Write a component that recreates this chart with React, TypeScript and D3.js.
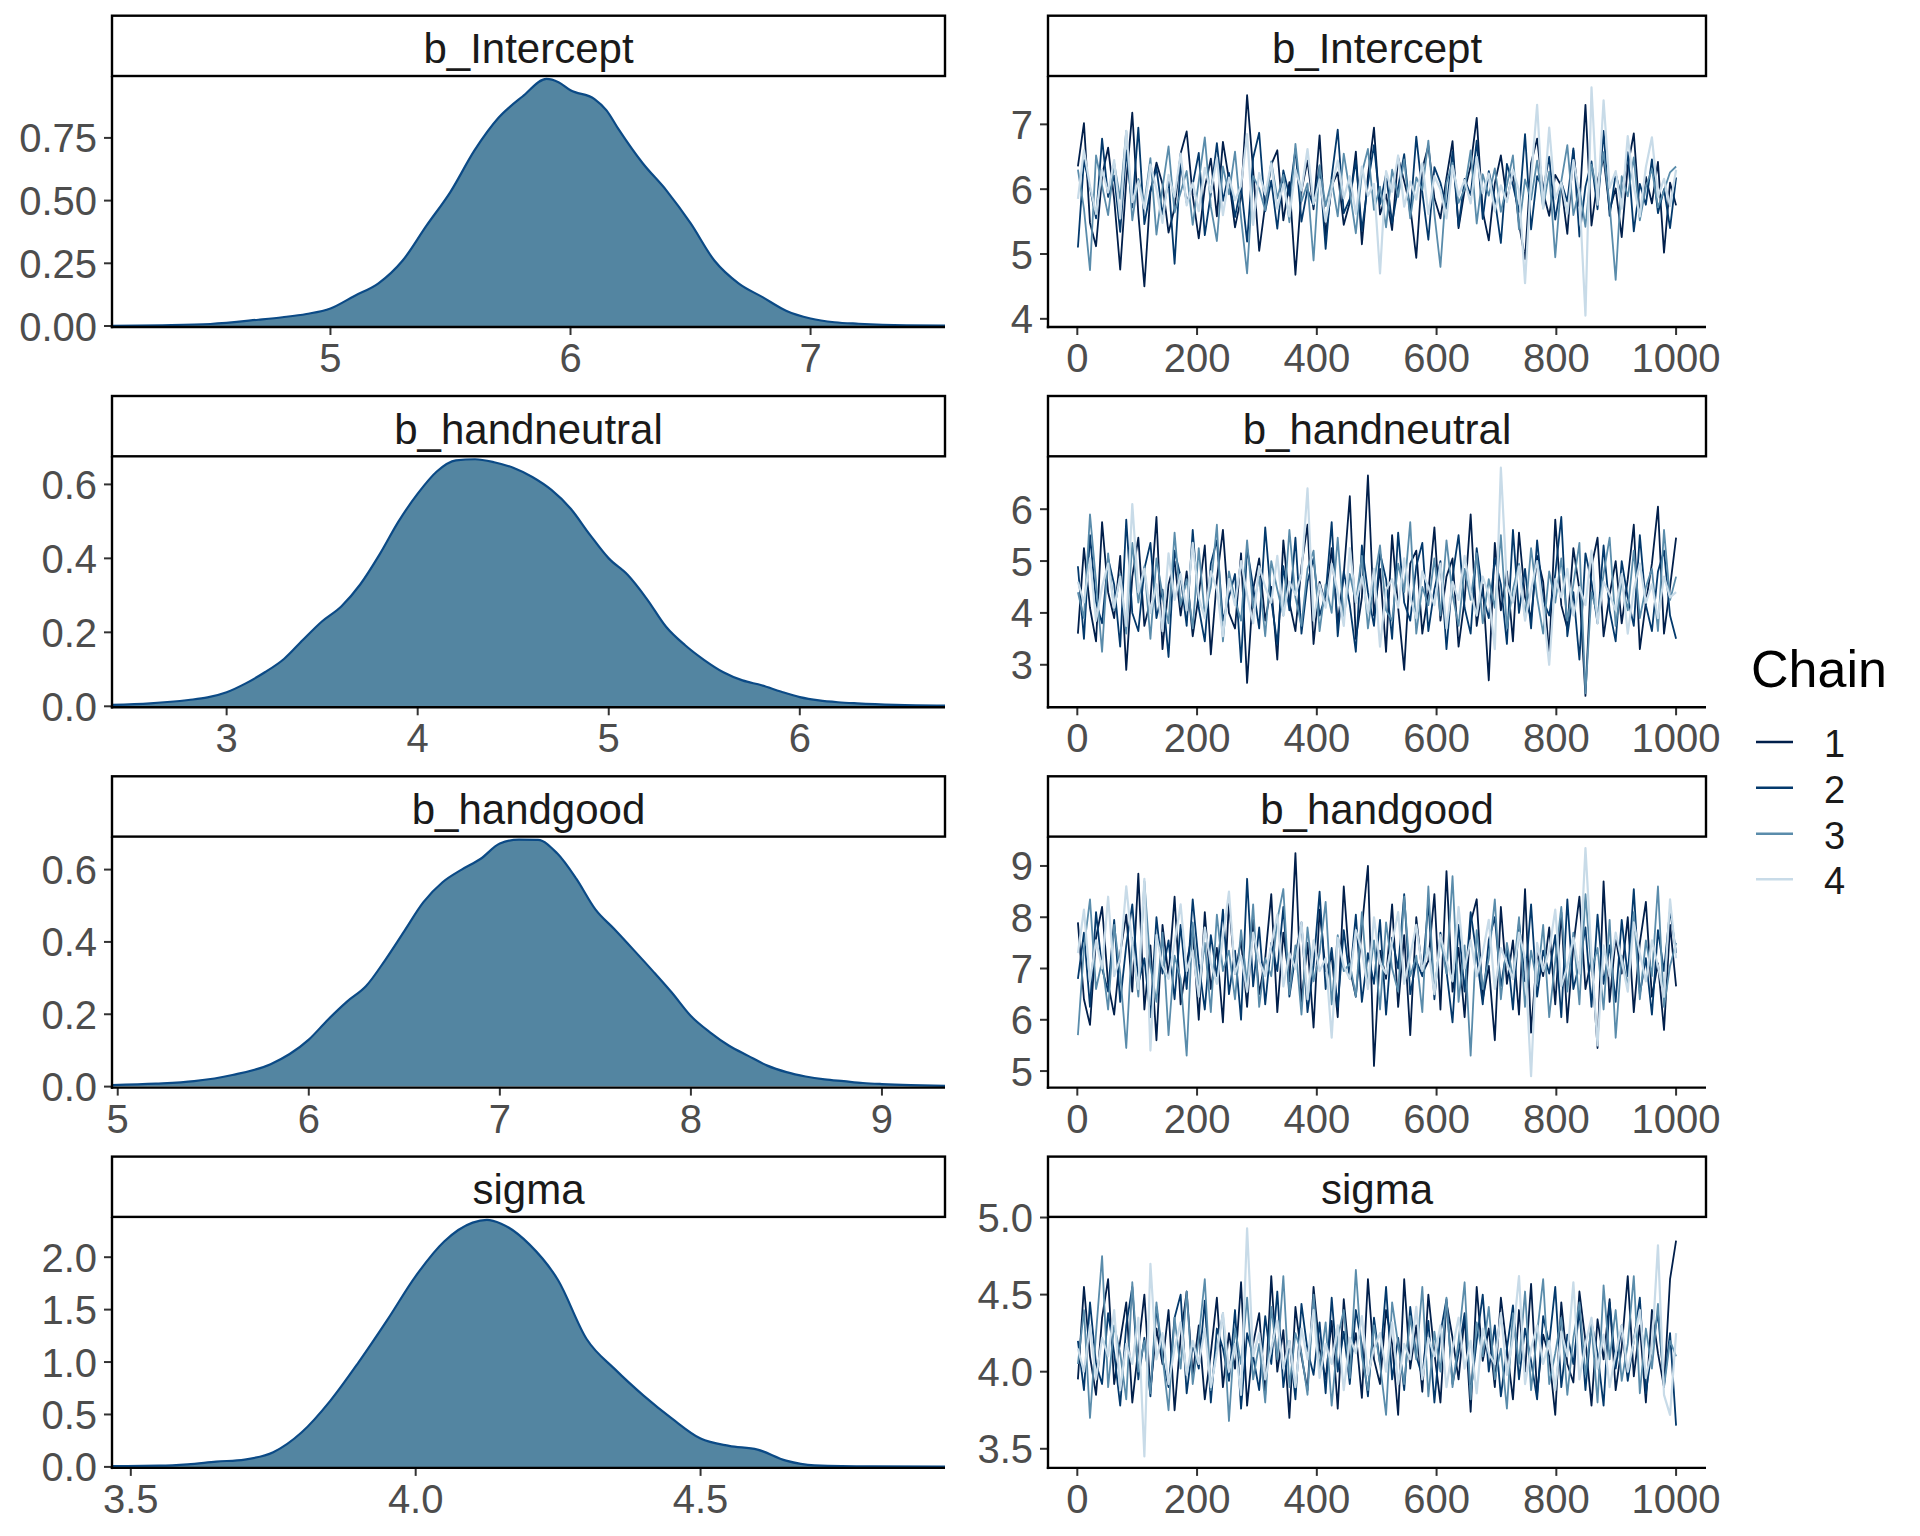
import React from 'react';
import * as d3 from 'd3';

const FONT = '"Liberation Sans", Arial, Helvetica, sans-serif';

// ---------- parameter names / chains ----------
const PARAM_NAMES = ['b_Intercept', 'b_handneutral', 'b_handgood', 'sigma'];
const CHAIN_LABELS = ['1', '2', '3', '4'];
const CHAIN_COLORS = ['#011f4b', '#03396c', '#5a8cab', '#c8dbe8'];
const DENS_FILL = '#5385a1';
const DENS_LINE = '#0b4a86';

// ---------- density curves ----------
const interceptDensX = [4.09, 4.3, 4.5, 4.7, 4.8, 4.9, 5.0, 5.1, 5.2, 5.3, 5.4, 5.5, 5.6, 5.7, 5.8, 5.9, 5.95, 6.0, 6.1, 6.15, 6.2, 6.3, 6.4, 6.5, 6.6, 6.7, 6.8, 6.9, 7.0, 7.1, 7.2, 7.3, 7.4, 7.56];
const interceptDensY = [0.001, 0.003, 0.008, 0.025, 0.035, 0.048, 0.07, 0.12, 0.17, 0.26, 0.40, 0.535, 0.70, 0.83, 0.915, 0.985, 0.972, 0.94, 0.905, 0.86, 0.785, 0.65, 0.54, 0.41, 0.26, 0.17, 0.115, 0.06, 0.03, 0.015, 0.009, 0.005, 0.003, 0.002];

const handneutralDensX = [2.40, 2.6, 2.8, 2.9, 3.0, 3.1, 3.2, 3.3, 3.4, 3.5, 3.6, 3.7, 3.8, 3.9, 4.0, 4.1, 4.2, 4.3, 4.4, 4.5, 4.6, 4.7, 4.8, 4.9, 5.0, 5.1, 5.2, 5.3, 5.4, 5.5, 5.6, 5.7, 5.8, 5.9, 6.0, 6.1, 6.2, 6.3, 6.5, 6.76];
const handneutralDensY = [0.004, 0.008, 0.017, 0.024, 0.038, 0.062, 0.092, 0.128, 0.18, 0.23, 0.27, 0.33, 0.41, 0.50, 0.575, 0.635, 0.665, 0.668, 0.66, 0.645, 0.62, 0.585, 0.535, 0.465, 0.40, 0.355, 0.29, 0.215, 0.165, 0.125, 0.092, 0.07, 0.057, 0.04, 0.025, 0.016, 0.011, 0.008, 0.004, 0.002];

const handgoodDensX = [4.97, 5.2, 5.4, 5.6, 5.8, 5.9, 6.0, 6.1, 6.2, 6.3, 6.4, 6.5, 6.6, 6.7, 6.8, 6.9, 7.0, 7.1, 7.2, 7.3, 7.4, 7.5, 7.6, 7.7, 7.8, 7.9, 8.0, 8.1, 8.2, 8.3, 8.4, 8.5, 8.6, 8.7, 8.8, 8.9, 9.0, 9.15, 9.33];
const handgoodDensY = [0.004, 0.008, 0.015, 0.032, 0.062, 0.09, 0.13, 0.185, 0.235, 0.278, 0.35, 0.43, 0.51, 0.565, 0.60, 0.63, 0.672, 0.683, 0.682, 0.645, 0.575, 0.49, 0.435, 0.378, 0.32, 0.26, 0.195, 0.15, 0.113, 0.085, 0.058, 0.04, 0.028, 0.02, 0.015, 0.01, 0.007, 0.004, 0.002];

const sigmaDensX = [3.467, 3.55, 3.6, 3.65, 3.7, 3.75, 3.8, 3.85, 3.9, 3.95, 4.0, 4.05, 4.1, 4.125, 4.15, 4.2, 4.25, 4.3, 4.35, 4.4, 4.45, 4.5, 4.55, 4.6, 4.65, 4.7, 4.8, 4.929];
const sigmaDensY = [0.008, 0.012, 0.025, 0.05, 0.07, 0.14, 0.33, 0.63, 1.0, 1.40, 1.82, 2.15, 2.33, 2.356, 2.32, 2.12, 1.78, 1.22, 0.93, 0.68, 0.46, 0.27, 0.20, 0.165, 0.06, 0.015, 0.005, 0.004];

// ---------- tick values / labels ----------
const interceptDensXTicks = [5, 6, 7];
const interceptDensXLabels = ['5', '6', '7'];
const interceptDensYTicks = [0, 0.25, 0.5, 0.75];
const interceptDensYLabels = ['0.00', '0.25', '0.50', '0.75'];
const handneutralDensXTicks = [3, 4, 5, 6];
const handneutralDensXLabels = ['3', '4', '5', '6'];
const handneutralDensYTicks = [0, 0.2, 0.4, 0.6];
const handneutralDensYLabels = ['0.0', '0.2', '0.4', '0.6'];
const handgoodDensXTicks = [5, 6, 7, 8, 9];
const handgoodDensXLabels = ['5', '6', '7', '8', '9'];
const handgoodDensYTicks = [0, 0.2, 0.4, 0.6];
const handgoodDensYLabels = ['0.0', '0.2', '0.4', '0.6'];
const sigmaDensXTicks = [3.5, 4.0, 4.5];
const sigmaDensXLabels = ['3.5', '4.0', '4.5'];
const sigmaDensYTicks = [0, 0.5, 1, 1.5, 2];
const sigmaDensYLabels = ['0.0', '0.5', '1.0', '1.5', '2.0'];

const interceptTraceYTicks = [4, 5, 6, 7];
const interceptTraceYLabels = ['4', '5', '6', '7'];
const handneutralTraceYTicks = [3, 4, 5, 6];
const handneutralTraceYLabels = ['3', '4', '5', '6'];
const handgoodTraceYTicks = [5, 6, 7, 8, 9];
const handgoodTraceYLabels = ['5', '6', '7', '8', '9'];
const sigmaTraceYTicks = [3.5, 4.0, 4.5, 5.0];
const sigmaTraceYLabels = ['3.5', '4.0', '4.5', '5.0'];

const ITER_TICKS = [0, 200, 400, 600, 800, 1000];
const ITER_LABELS = ['0', '200', '400', '600', '800', '1000'];
const ITER_FIRST = 1;
const ITER_LAST = 1000;

// ---------- trace draws (thinned) ----------
const interceptChain1 = [6.35, 7.02, 5.48, 5.12, 6.21, 6.64, 5.85, 4.76, 6.12, 7.18, 5.62, 4.50, 5.95, 6.41, 6.08, 5.33, 5.71, 6.55, 6.89, 5.90, 5.24, 6.02, 6.47, 5.58, 6.73, 6.15, 5.41, 5.87, 7.45, 6.30, 5.05, 5.76, 6.38, 6.60, 5.52, 6.11, 4.68, 5.97, 6.44, 5.69, 6.83, 5.28, 6.05, 6.26, 5.45, 5.80, 6.58, 5.15, 6.20, 6.95, 5.61, 5.92, 5.37, 6.49, 6.12, 5.73, 4.94, 6.31, 6.67, 5.86, 5.55, 6.18, 6.74, 5.40, 5.98, 6.36, 7.10, 5.66, 5.21, 6.09, 6.52, 5.83, 6.27, 5.47, 4.92, 6.40, 6.78, 5.95, 5.59, 6.22, 6.05, 5.31, 6.60, 5.74, 7.30, 5.44, 6.13, 6.48, 5.68, 6.01, 5.26, 6.35, 6.86, 5.57, 6.19, 5.78, 6.42, 5.02, 6.10, 5.75];
const interceptChain2 = [5.10, 6.45, 6.02, 5.55, 6.78, 5.88, 6.21, 5.34, 6.60, 5.72, 6.95, 5.46, 5.98, 6.33, 5.61, 6.14, 4.85, 6.40, 5.79, 6.07, 6.56, 5.29, 5.93, 6.71, 5.82, 6.25, 5.57, 6.05, 5.19, 6.48, 6.87, 5.66, 6.13, 5.39, 6.29, 5.90, 6.62, 5.50, 6.00, 5.74, 6.36, 5.08, 6.19, 6.92, 5.63, 5.85, 6.44, 5.36, 6.09, 6.68, 5.77, 6.23, 5.48, 6.03, 6.54, 5.60, 6.81, 5.95, 5.22, 6.34, 6.10, 5.70, 6.58, 5.43, 6.16, 5.91, 6.75, 5.54, 6.28, 5.84, 5.17, 6.39, 6.06, 5.65, 6.85, 5.38, 6.20, 5.99, 6.50, 5.53, 6.11, 5.81, 6.63, 5.27, 6.04, 6.43, 5.69, 6.90, 5.59, 6.24, 5.87, 6.57, 5.35, 6.08, 5.76, 6.46, 5.63, 6.00, 5.40, 6.18];
const interceptChain3 = [6.30, 5.70, 4.75, 6.52, 6.05, 5.60, 6.40, 5.85, 6.90, 5.52, 6.16, 5.78, 6.48, 5.30, 6.02, 6.66, 5.64, 5.95, 6.28, 5.45, 6.12, 6.80, 5.73, 5.20, 6.35, 5.92, 6.58, 5.56, 4.70, 6.20, 6.01, 5.67, 6.43, 5.86, 6.22, 5.49, 6.70, 5.81, 6.09, 4.90, 6.37, 5.74, 6.14, 5.58, 6.55, 5.96, 5.32, 6.25, 6.62, 5.68, 6.04, 5.41, 6.30, 5.88, 6.46, 5.55, 6.18, 5.99, 6.75, 5.62, 4.80, 6.10, 6.41, 5.79, 6.00, 6.60, 5.47, 6.23, 5.90, 6.32, 5.65, 6.06, 6.52, 5.38, 6.15, 5.84, 6.44, 5.71, 6.27, 4.95, 6.12, 6.68, 5.60, 6.02, 5.42, 6.38, 5.93, 6.57, 5.76, 4.60, 6.20, 5.89, 6.49, 5.52, 6.03, 6.31, 5.72, 5.98, 6.26, 6.35];
const interceptChain4 = [5.85, 6.60, 6.05, 5.62, 6.30, 5.95, 6.45, 5.55, 6.90, 5.80, 6.12, 5.70, 6.38, 6.00, 5.48, 6.22, 5.88, 6.55, 5.75, 6.10, 5.66, 6.33, 5.95, 6.48, 5.60, 6.18, 5.83, 6.05, 6.85, 5.45, 6.25, 5.92, 6.40, 5.70, 6.08, 5.58, 6.30, 5.98, 6.62, 5.77, 6.15, 5.50, 6.02, 6.44, 5.86, 6.20, 5.62, 6.35, 5.90, 6.08, 4.70, 6.28, 5.96, 6.52, 5.73, 6.12, 5.84, 6.40, 5.62, 6.20, 6.00, 5.55, 6.36, 5.90, 6.14, 5.78, 6.50, 5.94, 6.24, 5.66, 6.06, 5.80, 6.30, 5.98, 4.55, 6.15, 7.30, 5.70, 6.95, 5.85, 6.10, 5.62, 6.45, 5.92, 4.05, 7.57, 5.76, 7.37, 6.02, 6.28, 5.70, 6.82, 6.04, 5.58, 6.34, 6.80, 5.88, 6.16, 5.74, 6.30];

const handneutralChain1 = [3.60, 5.25, 4.10, 3.45, 5.75, 4.40, 3.90, 5.10, 2.90, 4.70, 5.45, 3.75, 4.25, 5.85, 3.30, 4.55, 5.00, 3.95, 4.80, 3.55, 4.35, 5.30, 3.20, 4.65, 5.60, 4.00, 3.70, 5.15, 2.65, 4.45, 5.05, 3.85, 4.50, 3.10, 5.40, 4.20, 3.65, 4.90, 5.70, 3.40, 4.60, 4.15, 5.25, 3.80, 4.75, 6.25, 3.50, 4.30, 6.65, 3.95, 4.85, 3.25, 5.50, 4.10, 2.90, 4.95, 5.20, 3.60, 4.40, 5.65, 3.85, 4.70, 5.05, 3.35, 4.25, 5.90, 3.75, 4.55, 2.70, 5.35, 4.05, 4.80, 3.45, 5.55, 4.30, 3.90, 5.10, 4.60, 3.20, 5.80, 4.15, 3.70, 5.25, 4.45, 2.40, 4.90, 5.45, 3.55, 4.35, 5.00, 3.80, 4.65, 5.70, 3.30, 4.20, 4.95, 6.05, 3.60, 4.50, 5.45];
const handneutralChain2 = [4.90, 3.50, 5.50, 4.20, 3.80, 5.05, 4.55, 3.35, 5.80, 4.00, 3.65, 4.85, 5.35, 3.90, 4.45, 3.15, 5.20, 4.70, 3.75, 5.60, 4.10, 3.45, 4.95, 5.40, 3.85, 4.30, 4.75, 3.05, 5.25, 4.50, 3.70, 5.65, 4.25, 3.40, 4.90, 4.05, 5.45, 3.60, 4.60, 5.05, 3.95, 4.35, 5.75, 3.55, 4.80, 4.15, 3.25, 5.30, 4.40, 3.75, 5.15, 4.65, 3.50, 5.55, 4.20, 3.85, 4.90, 5.35, 3.65, 4.45, 5.00, 3.30, 4.70, 5.50, 4.10, 3.60, 5.25, 4.35, 3.90, 5.05, 4.55, 3.40, 5.60, 4.00, 4.85, 3.70, 5.40, 4.25, 3.95, 4.75, 5.85, 3.55, 4.40, 3.10, 5.15, 4.60, 3.80, 5.30, 4.05, 3.45, 5.00, 4.30, 3.75, 5.50, 4.15, 3.65, 4.80, 5.20, 3.95, 3.50];
const handneutralChain3 = [4.40, 3.90, 5.90, 4.60, 3.25, 5.15, 4.05, 4.75, 3.60, 5.35, 4.20, 4.90, 3.50, 5.05, 4.35, 3.80, 5.55, 4.15, 4.65, 3.70, 5.25, 3.95, 4.50, 5.70, 3.45, 4.80, 4.25, 3.85, 5.40, 4.10, 4.70, 3.55, 5.00, 4.45, 3.95, 5.60, 4.30, 3.75, 4.85, 5.20, 3.65, 4.55, 4.00, 5.45, 3.90, 4.75, 4.20, 5.10, 3.70, 4.60, 5.30, 4.05, 3.85, 4.95, 4.40, 5.75, 3.60, 4.50, 4.15, 5.05, 3.95, 5.40, 4.35, 3.75, 4.85, 4.25, 5.15, 3.80, 4.65, 4.10, 5.50, 3.70, 4.45, 4.95, 3.90, 5.25, 4.30, 3.60, 4.80, 4.20, 5.05, 3.85, 4.55, 5.35, 2.45, 4.40, 3.95, 4.75, 5.45, 3.75, 4.60, 4.05, 5.20, 3.90, 4.50, 4.85, 3.65, 5.60, 4.25, 4.70];
const handneutralChain4 = [4.60, 4.20, 5.05, 3.85, 4.50, 4.95, 4.10, 4.70, 3.75, 6.10, 4.40, 4.85, 4.00, 4.55, 3.65, 5.15, 4.25, 4.75, 4.05, 5.35, 4.30, 3.90, 4.80, 4.45, 3.55, 4.65, 4.15, 5.00, 4.35, 3.80, 4.90, 4.50, 4.20, 5.10, 3.95, 4.60, 4.35, 4.75, 6.40, 3.85, 4.55, 4.10, 4.95, 4.40, 3.75, 5.25, 4.20, 4.70, 4.00, 4.85, 3.35, 4.45, 4.65, 4.10, 5.05, 4.30, 3.90, 4.80, 4.50, 4.15, 4.95, 3.70, 4.60, 4.25, 5.10, 4.40, 3.95, 4.70, 4.35, 3.30, 6.80, 4.55, 4.20, 4.90, 3.85, 4.45, 5.00, 4.10, 3.00, 4.65, 4.30, 4.85, 3.95, 4.50, 4.15, 5.20, 3.80, 4.60, 4.35, 4.05, 4.75, 3.60, 4.45, 4.95, 4.20, 4.55, 3.90, 4.70, 4.30, 4.40];

const handgoodChain1 = [7.90, 6.40, 5.90, 7.60, 8.20, 6.70, 6.10, 7.30, 8.05, 6.55, 8.85, 6.20, 7.45, 5.60, 7.85, 6.85, 8.40, 6.30, 7.10, 7.75, 6.00, 8.10, 6.60, 7.40, 5.95, 8.30, 6.90, 7.55, 6.25, 7.95, 6.50, 7.20, 8.45, 6.15, 7.70, 6.75, 9.25, 6.35, 7.50, 5.85, 8.15, 6.95, 7.25, 6.05, 8.60, 7.00, 6.45, 7.80, 9.00, 5.10, 7.35, 6.80, 8.25, 6.25, 7.65, 5.70, 8.00, 6.90, 7.15, 8.45, 6.20, 8.90, 6.55, 7.40, 6.05, 7.90, 8.35, 6.40, 7.05, 5.60, 8.20, 6.70, 7.55, 6.10, 8.55, 5.75, 7.30, 6.85, 7.80, 6.30, 8.10, 5.95, 7.45, 8.40, 6.60, 7.20, 5.45, 8.70, 6.35, 7.60, 6.90, 8.00, 6.15, 7.50, 8.30, 6.45, 7.10, 5.80, 7.85, 6.65];
const handgoodChain2 = [6.80, 7.70, 6.25, 8.10, 7.00, 6.55, 7.95, 6.35, 7.45, 8.25, 6.70, 7.20, 6.05, 8.00, 6.90, 7.55, 6.40, 7.85, 6.60, 8.35, 7.10, 6.20, 7.65, 6.85, 8.15, 6.50, 7.35, 6.00, 8.75, 6.65, 7.80, 6.30, 7.50, 6.95, 8.20, 6.45, 7.25, 7.90, 6.15, 7.05, 8.50, 6.60, 7.40, 6.25, 7.75, 6.80, 8.05, 6.35, 7.30, 6.70, 7.95, 6.10, 7.60, 7.00, 8.45, 6.50, 7.15, 6.85, 8.30, 6.40, 7.70, 6.95, 5.95, 7.85, 6.55, 8.10, 7.25, 6.30, 7.55, 8.00, 6.65, 7.40, 6.20, 7.90, 6.75, 8.25, 6.45, 7.35, 6.90, 7.65, 6.05, 8.35, 6.60, 7.10, 7.80, 6.25, 8.05, 6.70, 7.45, 6.35, 7.95, 6.85, 8.55, 6.50, 7.20, 6.10, 7.75, 6.95, 8.15, 7.30];
const handgoodChain3 = [5.70, 7.40, 8.35, 6.60, 7.15, 6.20, 7.85, 6.90, 5.45, 7.60, 6.45, 8.70, 7.05, 6.35, 7.70, 5.70, 7.25, 6.80, 5.30, 7.90, 6.55, 7.50, 6.15, 8.05, 6.95, 7.35, 6.40, 7.75, 6.70, 8.25, 6.25, 7.20, 6.85, 7.95, 8.55, 6.50, 7.45, 6.10, 7.80, 6.75, 7.30, 8.30, 6.30, 7.65, 6.95, 7.10, 6.45, 8.10, 6.65, 7.55, 6.20, 7.90, 7.00, 6.55, 8.40, 6.85, 7.25, 6.15, 8.60, 6.50, 7.60, 6.90, 8.80, 6.35, 7.45, 5.30, 7.75, 6.60, 7.20, 8.35, 6.40, 7.50, 6.80, 8.00, 6.25, 7.35, 6.70, 7.85, 6.05, 7.15, 8.20, 6.55, 7.70, 6.30, 8.45, 6.95, 7.40, 6.20, 7.95, 5.65, 7.25, 6.65, 8.10, 6.40, 7.55, 6.85, 8.60, 6.25, 7.05, 7.50];
const handgoodChain4 = [7.30, 8.15, 6.75, 7.55, 7.00, 8.40, 6.85, 7.20, 8.60, 7.45, 6.60, 8.75, 5.40, 7.65, 7.05, 6.80, 7.50, 8.25, 6.95, 7.35, 6.45, 7.80, 7.10, 6.70, 7.60, 8.50, 6.90, 7.25, 6.55, 7.70, 7.15, 6.85, 7.45, 8.05, 6.65, 7.30, 7.00, 7.90, 6.40, 7.55, 6.95, 7.20, 5.65, 7.60, 7.05, 6.80, 7.75, 7.35, 6.60, 8.00, 7.10, 6.90, 7.50, 8.10, 6.70, 7.25, 7.85, 6.95, 7.40, 6.50, 7.65, 7.15, 6.75, 8.20, 7.00, 7.55, 6.85, 7.30, 7.95, 6.60, 7.40, 7.10, 6.80, 7.70, 7.20, 4.90, 7.50, 6.95, 7.35, 8.15, 6.65, 7.05, 7.60, 6.90, 9.35, 7.25, 5.50, 7.45, 6.85, 7.70, 7.15, 6.55, 7.90, 7.30, 6.75, 7.55, 7.05, 6.45, 8.35, 7.20];

const sigmaChain1 = [3.95, 4.55, 4.10, 3.85, 4.35, 4.60, 3.92, 4.20, 4.45, 3.80, 4.15, 4.50, 3.88, 4.28, 4.05, 4.40, 3.75, 4.22, 4.52, 3.98, 4.30, 3.82, 4.12, 4.48, 3.90, 4.25, 4.02, 4.58, 3.78, 4.18, 4.38, 3.85, 4.62, 4.00, 4.27, 3.70, 4.42, 4.10, 3.88, 4.55, 4.15, 3.95, 4.33, 3.76, 4.47, 4.05, 4.25, 3.83, 4.60, 4.08, 3.92, 4.40, 4.18, 3.72, 4.60, 4.02, 4.30, 3.87, 4.50, 4.12, 3.80, 4.45, 4.22, 3.95, 4.36, 3.74, 4.55, 4.07, 4.28, 3.90, 4.48, 4.15, 3.82, 4.40, 4.00, 4.57, 3.86, 4.24, 4.10, 3.72, 4.45, 4.05, 3.93, 4.52, 4.20, 3.78, 4.34, 4.08, 4.47, 3.88, 4.16, 4.62, 3.97, 4.30, 3.80, 4.40, 4.12, 3.90, 4.60, 4.85];
const sigmaChain2 = [4.20, 3.88, 4.45, 4.05, 3.92, 4.38, 4.12, 3.78, 4.30, 4.55, 3.95, 4.22, 3.84, 4.42, 4.08, 3.90, 4.35, 4.50, 3.86, 4.18, 4.02, 4.46, 3.80, 4.28, 4.15, 3.94, 4.40, 3.76, 4.25, 4.10, 3.88, 4.36, 4.05, 4.52, 3.90, 4.20, 3.82, 4.44, 4.14, 3.98, 4.32, 3.86, 4.48, 4.00, 4.26, 3.92, 4.40, 4.17, 3.84, 4.35, 4.05, 4.55, 3.95, 4.22, 3.88, 4.42, 4.10, 3.97, 4.33, 3.80, 4.25, 4.47, 3.92, 4.12, 4.38, 3.86, 4.20, 4.50, 4.00, 4.30, 3.84, 4.15, 4.43, 3.95, 4.28, 4.07, 3.82, 4.36, 4.18, 4.55, 3.90, 4.24, 4.05, 4.40, 3.88, 4.32, 4.12, 3.78, 4.45, 4.02, 4.30, 3.94, 4.20, 4.48, 3.86, 4.15, 4.38, 3.92, 4.25, 3.65];
const sigmaChain3 = [4.05, 4.40, 3.70, 4.25, 4.75, 3.90, 4.30, 4.12, 3.82, 4.58, 4.00, 4.20, 3.86, 4.45, 4.10, 3.75, 4.35, 4.02, 4.52, 3.92, 4.22, 4.60, 3.88, 4.15, 4.38, 3.68, 4.28, 4.05, 4.48, 3.95, 4.18, 3.80, 4.42, 4.08, 4.62, 3.90, 4.25, 4.12, 3.85, 4.50, 4.02, 4.32, 3.78, 4.22, 4.40, 3.96, 4.66, 4.10, 3.88, 4.30, 4.05, 3.72, 4.45, 4.18, 3.92, 4.36, 4.08, 4.55, 3.84, 4.26, 4.00, 4.48, 3.90, 4.20, 4.58, 3.82, 4.32, 4.10, 4.42, 3.95, 4.15, 3.76, 4.38, 4.05, 4.52, 3.88, 4.25, 4.60, 3.92, 4.12, 4.35, 3.85, 4.22, 4.45, 3.98, 4.30, 3.80, 4.56, 4.08, 4.40, 3.94, 4.18, 4.62, 3.86, 4.28, 4.02, 4.44, 3.90, 4.20, 4.10];
const sigmaChain4 = [4.15, 4.00, 4.30, 3.95, 4.22, 4.10, 4.40, 3.88, 4.18, 4.05, 4.35, 3.45, 4.70, 4.08, 4.25, 3.92, 4.15, 4.32, 3.98, 4.20, 4.05, 4.28, 3.90, 4.12, 4.38, 4.00, 4.18, 3.85, 4.93, 4.10, 4.25, 3.95, 4.15, 4.33, 4.02, 4.20, 3.90, 4.28, 4.08, 4.40, 3.96, 4.18, 4.05, 4.30, 3.88, 4.22, 4.12, 4.36, 3.98, 4.15, 4.25, 4.00, 4.32, 3.92, 4.18, 4.08, 4.42, 3.95, 4.22, 4.10, 4.30, 3.90, 4.15, 4.35, 4.02, 4.20, 3.86, 4.28, 4.12, 4.05, 4.38, 3.98, 4.22, 4.62, 3.92, 4.15, 4.30, 4.05, 4.20, 3.88, 4.26, 4.10, 4.58, 3.95, 4.18, 4.35, 4.02, 4.24, 3.90, 4.12, 4.30, 4.00, 4.20, 4.40, 3.96, 4.15, 4.82, 3.85, 3.72, 4.25];

// ---------- assemble panels ----------
const PANELS = [
  {
    name: PARAM_NAMES[0],
    densX: interceptDensX, densY: interceptDensY,
    dXTicks: interceptDensXTicks, dXLabels: interceptDensXLabels,
    dYTicks: interceptDensYTicks, dYLabels: interceptDensYLabels,
    chains: [interceptChain1, interceptChain2, interceptChain3, interceptChain4],
    tYTicks: interceptTraceYTicks, tYLabels: interceptTraceYLabels,
  },
  {
    name: PARAM_NAMES[1],
    densX: handneutralDensX, densY: handneutralDensY,
    dXTicks: handneutralDensXTicks, dXLabels: handneutralDensXLabels,
    dYTicks: handneutralDensYTicks, dYLabels: handneutralDensYLabels,
    chains: [handneutralChain1, handneutralChain2, handneutralChain3, handneutralChain4],
    tYTicks: handneutralTraceYTicks, tYLabels: handneutralTraceYLabels,
  },
  {
    name: PARAM_NAMES[2],
    densX: handgoodDensX, densY: handgoodDensY,
    dXTicks: handgoodDensXTicks, dXLabels: handgoodDensXLabels,
    dYTicks: handgoodDensYTicks, dYLabels: handgoodDensYLabels,
    chains: [handgoodChain1, handgoodChain2, handgoodChain3, handgoodChain4],
    tYTicks: handgoodTraceYTicks, tYLabels: handgoodTraceYLabels,
  },
  {
    name: PARAM_NAMES[3],
    densX: sigmaDensX, densY: sigmaDensY,
    dXTicks: sigmaDensXTicks, dXLabels: sigmaDensXLabels,
    dYTicks: sigmaDensYTicks, dYLabels: sigmaDensYLabels,
    chains: [sigmaChain1, sigmaChain2, sigmaChain3, sigmaChain4],
    tYTicks: sigmaTraceYTicks, tYLabels: sigmaTraceYLabels,
  },
];

// ---------- layout ----------
const W = 1920, H = 1536;
const LX0 = 112, LX1 = 945;
const RX0 = 1048, RX1 = 1706;
const ROW0 = 15.7, ROW_STEP = 380.3, STRIP_H = 60.3, PLOT_H = 251;
const AXIS_W = 2.4, TICK_LEN = 8;
const TICK_FS = 40, STRIP_FS = 42;
const TICK_COLOR = '#4d4d4d';

function Strip({ x0, x1, y0, label }: { x0: number; x1: number; y0: number; label: string }) {
  return (
    <g>
      <rect x={x0} y={y0} width={x1 - x0} height={STRIP_H} fill="white" stroke="black" strokeWidth={AXIS_W} />
      <text x={(x0 + x1) / 2} y={y0 + 47.5} textAnchor="middle" fontSize={STRIP_FS} fill="#1a1a1a" fontFamily={FONT}>{label}</text>
    </g>
  );
}

function Axes({ x0, x1, top, bottom, xs, ys }: any) {
  return (
    <g>
      {ys.ticks.map((t: number, i: number) => (
        <g key={'y' + i}>
          <line x1={x0 - TICK_LEN} x2={x0} y1={ys.scale(t)} y2={ys.scale(t)} stroke="#333333" strokeWidth={2} />
          <text x={x0 - 15} y={ys.scale(t) + 14.5} textAnchor="end" fontSize={TICK_FS} fill={TICK_COLOR} fontFamily={FONT}>{ys.labels[i]}</text>
        </g>
      ))}
      {xs.ticks.map((t: number, i: number) => (
        <g key={'x' + i}>
          <line x1={xs.scale(t)} x2={xs.scale(t)} y1={bottom} y2={bottom + TICK_LEN} stroke="#333333" strokeWidth={2} />
          <text x={xs.scale(t)} y={bottom + 45} textAnchor="middle" fontSize={TICK_FS} fill={TICK_COLOR} fontFamily={FONT}>{xs.labels[i]}</text>
        </g>
      ))}
      <line x1={x0} x2={x0} y1={top} y2={bottom + AXIS_W / 2} stroke="black" strokeWidth={AXIS_W} />
      <line x1={x0 - AXIS_W / 2} x2={x1} y1={bottom} y2={bottom} stroke="black" strokeWidth={AXIS_W} />
    </g>
  );
}

function Row({ p, r }: { p: any; r: number }) {
  const stripTop = ROW0 + r * ROW_STEP;
  const top = stripTop + STRIP_H;
  const bottom = top + PLOT_H;

  // density
  const dExt = d3.extent(p.densX) as [number, number];
  const dx = d3.scaleLinear().domain(dExt).range([LX0, LX1]);
  const dMax = d3.max(p.densY as number[]) as number;
  const dy = d3.scaleLinear().domain([0, dMax * 1.012]).range([bottom - 1, top]);
  const pts = p.densX.map((x: number, i: number) => [x, p.densY[i]] as [number, number]);
  const area = d3.area<[number, number]>().x(d => dx(d[0])).y0(dy(0)).y1(d => dy(d[1])).curve(d3.curveMonotoneX);
  const line = d3.line<[number, number]>().x(d => dx(d[0])).y(d => dy(d[1])).curve(d3.curveMonotoneX);

  // trace
  const expand = (ITER_LAST - ITER_FIRST) * 0.05;
  const tx = d3.scaleLinear().domain([ITER_FIRST - expand, ITER_LAST + expand]).range([RX0, RX1]);
  const all = (p.chains as number[][]).flat();
  const [mn, mx] = d3.extent(all) as [number, number];
  const pad = (mx - mn) * 0.05;
  const ty = d3.scaleLinear().domain([mn - pad, mx + pad]).range([bottom, top]);

  return (
    <g>
      <Strip x0={LX0} x1={LX1} y0={stripTop} label={p.name} />
      <path d={area(pts) || ''} fill={DENS_FILL} stroke="none" />
      <path d={line(pts) || ''} fill="none" stroke={DENS_LINE} strokeWidth={2.2} />
      <Axes x0={LX0} x1={LX1} top={top} bottom={bottom}
        xs={{ scale: dx, ticks: p.dXTicks, labels: p.dXLabels }}
        ys={{ scale: dy, ticks: p.dYTicks, labels: p.dYLabels }} />

      <Strip x0={RX0} x1={RX1} y0={stripTop} label={p.name} />
      {(p.chains as number[][]).map((ch, ci) => {
        const n = ch.length;
        const tl = d3.line<number>()
          .x((_, i) => tx(ITER_FIRST + (i * (ITER_LAST - ITER_FIRST)) / (n - 1)))
          .y(v => ty(v));
        return <path key={ci} d={tl(ch) || ''} fill="none" stroke={CHAIN_COLORS[ci]} strokeWidth={ci === 3 ? 2.2 : 1.8} strokeLinejoin="round" />;
      })}
      <Axes x0={RX0} x1={RX1} top={top} bottom={bottom}
        xs={{ scale: tx, ticks: ITER_TICKS, labels: ITER_LABELS }}
        ys={{ scale: ty, ticks: p.tYTicks, labels: p.tYLabels }} />
    </g>
  );
}

function Legend() {
  const keyY = [742, 787.7, 833.7, 879.3];
  return (
    <g>
      <text x={1751} y={686.7} fontSize={52} fill="black" fontFamily={FONT}>Chain</text>
      {CHAIN_LABELS.map((lab, i) => (
        <g key={lab}>
          <line x1={1756} x2={1793} y1={keyY[i]} y2={keyY[i]} stroke={CHAIN_COLORS[i]} strokeWidth={2.5} />
          <text x={1824} y={keyY[i] + 15} fontSize={38} fill="#1a1a1a" fontFamily={FONT}>{lab}</text>
        </g>
      ))}
    </g>
  );
}

export default function App() {
  return (
    <svg width={W} height={H} viewBox={`0 0 ${W} ${H}`}
      style={{ position: 'absolute', left: 0, top: 0, background: 'white', display: 'block' }}>
      <rect x={0} y={0} width={W} height={H} fill="white" />
      {PANELS.map((p, r) => <Row key={p.name} p={p} r={r} />)}
      <Legend />
    </svg>
  );
}
